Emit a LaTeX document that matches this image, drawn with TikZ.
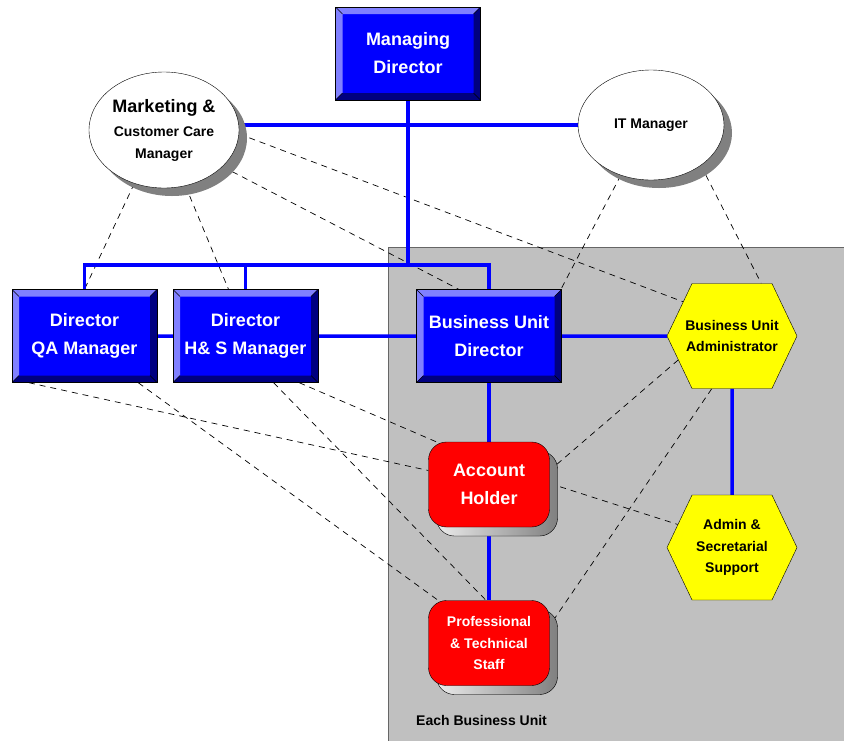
\documentclass[tikz,border=0pt]{standalone}
\usepackage{fontspec}
\setmainfont{Liberation Sans}
\usetikzlibrary{shapes.geometric,shapes.symbols,shadows,calc}
\definecolor{unitgray}{HTML}{C0C0C0}
\definecolor{boxblue}{HTML}{0000FF}
\definecolor{bevlight}{HTML}{8080FF}
\definecolor{bevdark}{HTML}{000080}
\definecolor{linkblue}{HTML}{0000FF}
\definecolor{staffred}{HTML}{FF0000}
\definecolor{adminyellow}{HTML}{FFFF00}
\definecolor{shadowgray}{HTML}{808080}
\pgfdeclarelayer{bg}
\pgfdeclarelayer{links}
\pgfsetlayers{bg,links,main}

\begin{document}
\begin{tikzpicture}[x=1pt,y=-1pt,font=\bfseries,
  big/.style={font=\fontsize{18}{28}\selectfont\bfseries},
  small/.style={font=\fontsize{14}{21.5}\selectfont\bfseries},
  director/.style={rectangle,draw=black,fill=boxblue,text=white,big,align=center,
    minimum width=145pt,minimum height=93pt,inner sep=0pt,
    path picture={
      \coordinate (bsw) at (path picture bounding box.south west);
      \coordinate (bnw) at (path picture bounding box.north west);
      \coordinate (bne) at (path picture bounding box.north east);
      \coordinate (bse) at (path picture bounding box.south east);
      \fill[bevlight] (bsw) -- (bnw) -- (bne) -- ([shift={(-7pt,-7pt)}]bne)
        -- ([shift={(7pt,-7pt)}]bnw) -- ([shift={(7pt,7pt)}]bsw) -- cycle;
      \fill[bevdark] (bsw) -- (bse) -- (bne) -- ([shift={(-7pt,-7pt)}]bne)
        -- ([shift={(-7pt,7pt)}]bse) -- ([shift={(7pt,7pt)}]bsw) -- cycle;
      \draw[line width=0.5pt] (bnw) -- ++(7pt,-7pt) (bne) -- ++(-7pt,-7pt)
        (bsw) -- ++(7pt,7pt) (bse) -- ++(-7pt,7pt);
    }},
  manager/.style={ellipse,draw=black,fill=white,align=center,inner sep=0pt,small,
    drop shadow={shadow xshift=8pt,shadow yshift=-8pt,opacity=1,fill=shadowgray}},
  admin/.style={signal,signal to=east and west,signal pointer angle=129,
    draw=black,fill=adminyellow,small,align=center,
    minimum width=130pt,minimum height=105pt,inner sep=0pt},
  staff/.style={rectangle,rounded corners=18pt,draw=black,fill=staffred,text=white,
    align=center,minimum width=121pt,minimum height=85pt,inner sep=0pt,
    drop shadow={shadow xshift=8pt,shadow yshift=-9pt,opacity=1,draw=black,
      left color=white!85!gray,right color=gray}},
  orgline/.style={linkblue,line width=3.5pt},
  liaison/.style={black,line width=0.7pt,dash pattern=on 6pt off 5pt}]

  \useasboundingbox (0,0) rectangle (844,740);

  \begin{pgfonlayer}{bg}
    \filldraw[fill=unitgray,draw=black!60,line width=1pt] (388,247) rectangle (860,760);
  \end{pgfonlayer}

  \node[director] (md) at (408,53.5) {Managing\\Director};
  \node[manager,minimum width=150pt,minimum height=116pt] (mkt) at (164,130)
    {{\fontsize{18}{25}\selectfont Marketing \&}\\[3pt]Customer Care\\Manager};
  \node[manager,minimum width=146pt,minimum height=110pt] (itm) at (651,125) {IT Manager};

  \node[director] (qa) at (84.5,336) {Director\\QA Manager};
  \node[director] (hs) at (245.5,336) {Director\\H\& S Manager};
  \node[director] (bud) at (489,336) {Business Unit\\Director};
  \node[admin,inner xsep=-7pt] (bua) at (732,336) {Business Unit\\Administrator};
  \node[admin] (ash) at (732,547.5) {Admin \&\\Secretarial\\Support};

  \node[staff,big] (acc) at (489,484.5) {Account\\Holder};
  \node[staff,small] (pts) at (489,643) {Professional\\\& Technical\\Staff};

  \node[small,anchor=west,inner sep=0pt] (unit) at (416,720) {Each Business Unit};

  \begin{pgfonlayer}{links}
    \draw[liaison] (mkt.241) -- (qa.north);
    \draw[liaison] (mkt.291) -- (hs.110);
    \draw[liaison] (mkt.-3) -- (bua.145);
    \draw[liaison] (mkt.-32) -- (bud.123);
    \draw[liaison] (itm.239) -- (bud.33);
    \draw[liaison] (itm.321) -- (bua.61);
    \draw[liaison] (bua.204) -- (acc.13);
    \draw[liaison] (bua.249) -- (pts.16);
    \draw[liaison] (acc.1) -- (ash.157);
    \draw[liaison] (qa.220) -- (acc.167);
    \draw[liaison] (qa.319) -- (pts.140);
    \draw[liaison] (hs.301) -- (pts.94);
    \draw[liaison] (hs.319) -- (acc.141);

    \coordinate (bus) at (408,265);
    \draw[orgline] (md.south) -- (bus);
    \draw[orgline] (qa.north) |- (bus) -| (bud.north);
    \draw[orgline] (hs.north) -- (hs.north |- bus);
    \draw[orgline] (itm.west) -- (itm.west -| mkt.east);
    \draw[orgline] (qa) -- (hs) -- (bud) -- (bua);
    \draw[orgline] (bud) -- (acc) -- (pts);
    \draw[orgline] (bua) -- (ash);
  \end{pgfonlayer}
\end{tikzpicture}
\end{document}
